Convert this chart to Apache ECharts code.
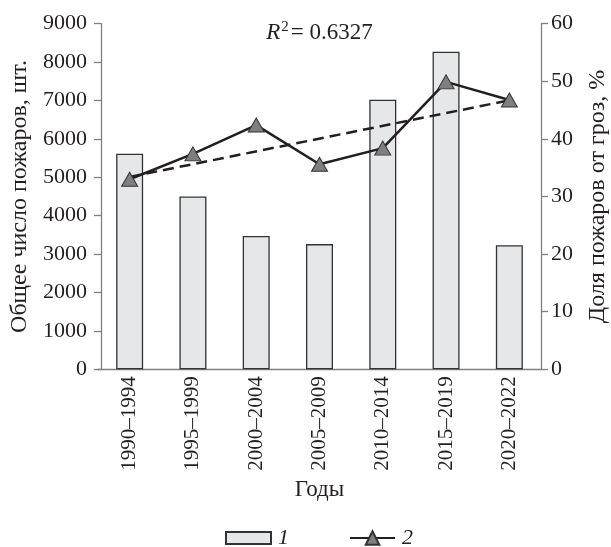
<!DOCTYPE html>
<html>
<head>
<meta charset="utf-8">
<script src="https://cdn.jsdelivr.net/npm/echarts@6/dist/echarts.min.js"></script>
<style>html,body{margin:0;padding:0;background:#fff}#c{width:611px;height:547px}</style>
</head>
<body>
<div id="c"></div>
<script>
const categories = ['1990–1994','1995–1999','2000–2004','2005–2009','2010–2014','2015–2019','2020–2022'];
const totalFires = [5615, 4500, 3470, 3260, 7020, 8270, 3230];
const lightningShare = [33.0, 37.4, 42.4, 35.6, 38.4, 49.9, 46.75];
const trendShare = [33.4, null, null, null, null, null, 46.7];
const leftTicks = [0, 9000, 1000];
const rightTicks = [0, 60, 10];
const r2Text = '0.6327';

const FONT = '"Liberation Serif", "Times New Roman", serif';
const TXT = '#231f20';
const AX = '#808080';
const legendText = {fontFamily: FONT, fontSize: 22, fontStyle: 'italic', color: TXT, padding: [0,0,0,2]};

const chart = echarts.init(document.getElementById('c'), null, {renderer: 'canvas'});
chart.setOption({
  animation: false,
  backgroundColor: '#ffffff',
  grid: {left: 98, right: 70, top: 23.7, bottom: 177.7, containLabel: false, outerBoundsMode: 'none'},
  legend: [{
    left: 225, top: 527, padding: 0,
    itemWidth: 45, itemHeight: 12,
    textStyle: legendText,
    data: [{name: '1', icon: 'rect'}]
  }, {
    left: 349, top: 527, padding: 0,
    itemWidth: 45, itemHeight: 17,
    textStyle: legendText,
    data: [{name: '2'}]
  }],
  graphic: [{
    type: 'text', x: 319.5, y: 20, z: 10,
    style: {
      text: '{i|R}{s|2}{n|= ' + r2Text + '}',
      textAlign: 'center',
      rich: {
        i: {fontFamily: FONT, fontSize: 23, fontStyle: 'italic', fill: TXT},
        s: {fontFamily: FONT, fontSize: 15, fill: TXT, padding: [0, 2, 10, 1]},
        n: {fontFamily: FONT, fontSize: 23, fill: TXT}
      }
    }
  }],
  xAxis: {
    type: 'category', data: categories,
    name: 'Годы', nameLocation: 'middle', nameGap: 108,
    nameTextStyle: {fontFamily: FONT, fontSize: 23, color: TXT},
    axisLine: {lineStyle: {color: AX, width: 1.3}},
    axisTick: {show: false},
    axisLabel: {rotate: 90, margin: 7, fontFamily: FONT, fontSize: 21, color: TXT, interval: 0}
  },
  yAxis: [{
    type: 'value', min: leftTicks[0], max: leftTicks[1], interval: leftTicks[2],
    offset: -3,
    name: 'Общее число пожаров, шт.', nameLocation: 'middle', nameGap: 69, nameRotate: 90,
    nameTextStyle: {fontFamily: FONT, fontSize: 24, color: TXT},
    axisLine: {show: true, lineStyle: {color: AX, width: 1.3}},
    axisTick: {show: true, length: 7, lineStyle: {color: AX, width: 1.3}},
    axisLabel: {margin: 14, fontFamily: FONT, fontSize: 22, color: TXT, formatter: v => String(v)},
    splitLine: {show: false}
  }, {
    type: 'value', min: rightTicks[0], max: rightTicks[1], interval: rightTicks[2],
    position: 'right',
    name: 'Доля пожаров от гроз, %', nameLocation: 'middle', nameGap: 45, nameRotate: 90,
    nameTextStyle: {fontFamily: FONT, fontSize: 24, color: TXT},
    axisLine: {show: true, lineStyle: {color: AX, width: 1.3}},
    axisTick: {show: true, length: 7, lineStyle: {color: AX, width: 1.3}},
    axisLabel: {margin: 10, fontFamily: FONT, fontSize: 22, color: TXT, formatter: v => String(v)},
    splitLine: {show: false}
  }],
  series: [{
    name: '1', type: 'bar', data: totalFires, barWidth: 27, yAxisIndex: 0,
    itemStyle: {color: '#e6e7e9', borderColor: '#333333', borderWidth: 1.3},
    z: 2
  }, {
    name: 'trend', type: 'line', data: trendShare, yAxisIndex: 1, connectNulls: true,
    symbol: 'none', lineStyle: {color: '#231f20', width: 2.5, type: [11, 6]},
    z: 3
  }, {
    name: '2', type: 'line', data: lightningShare, yAxisIndex: 1,
    symbol: 'triangle', symbolSize: [16, 14],
    lineStyle: {color: '#231f20', width: 2.5},
    itemStyle: {color: '#7f7f7f', borderColor: '#333333', borderWidth: 1},
    z: 4
  }]
});
</script>
</body>
</html>
